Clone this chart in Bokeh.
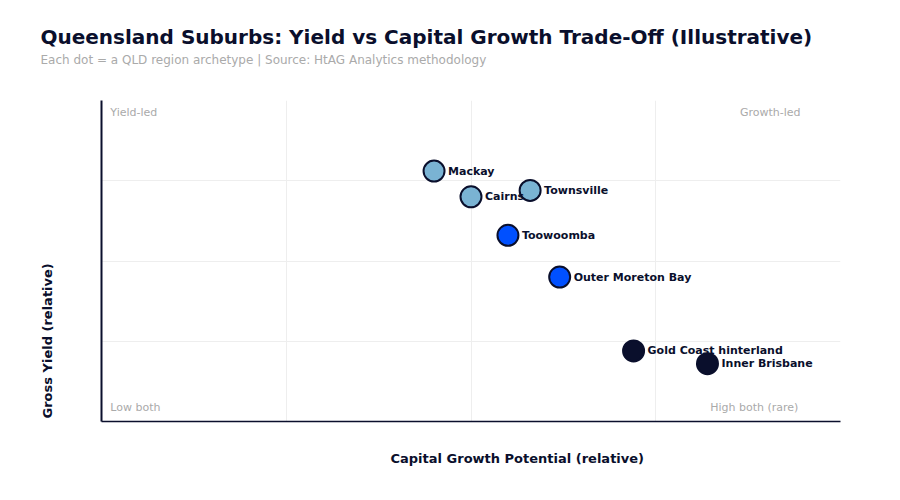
from bokeh.plotting import figure
from bokeh.models import ColumnDataSource, Label, FixedTicker, Range1d, Title
from bokeh.core.properties import value
from bokeh.embed import file_html
from bokeh.resources import INLINE

regions = ["Mackay", "Cairns", "Townsville", "Toowoomba", "Outer Moreton Bay",
           "Gold Coast hinterland", "Inner Brisbane"]
growth = [4.5, 5.0, 5.8, 5.5, 6.2, 7.2, 8.2]
yield_ = [7.8, 7.0, 7.2, 5.8, 4.5, 2.2, 1.8]
colors = ["#7ab3d3", "#7ab3d3", "#7ab3d3", "#0050ff", "#0050ff", "#0a0f2c", "#0a0f2c"]
grid_ticks = [2.5, 5.0, 7.5, 10.0]

FONT = "DejaVu Sans"
NAVY = "#0a0f2c"

p = figure(width=900, height=500, output_backend="svg", toolbar_location=None,
           x_range=Range1d(0, 10), y_range=Range1d(0, 10),
           min_border_left=101, min_border_right=60, min_border_top=100, min_border_bottom=79)
p.outline_line_color = None
p.background_fill_color = "white"

for ax in (p.xaxis, p.yaxis):
    ax.ticker = FixedTicker(ticks=[])
    ax.major_tick_line_color = None
    ax.minor_tick_line_color = None
    ax.axis_line_color = NAVY
p.yaxis.axis_line_width = 2
p.xaxis.axis_line_width = 1.5
p.xgrid.ticker = FixedTicker(ticks=grid_ticks)
p.ygrid.ticker = FixedTicker(ticks=grid_ticks)
p.xgrid.grid_line_color = "#eeeeee"
p.ygrid.grid_line_color = "#eeeeee"

src = ColumnDataSource(dict(x=growth, y=yield_, name=regions, c=colors))
p.scatter("x", "y", source=src, size=21, fill_color="c", line_color=NAVY, line_width=2)
p.text("x", "y", text="name", source=src, x_offset=14, text_baseline="middle",
       text_font=value(FONT), text_font_style="bold", text_font_size="11px", text_color=NAVY)

corner = dict(text_font=FONT, text_font_size="11px", text_color="#aaaaaa", text_baseline="middle")
p.add_layout(Label(x=0.12, y=9.63, text="Yield-led", text_align="left", **corner))
p.add_layout(Label(x=9.46, y=9.63, text="Growth-led", text_align="right", **corner))
p.add_layout(Label(x=0.12, y=0.44, text="Low both", text_align="left", **corner))
p.add_layout(Label(x=9.43, y=0.44, text="High both (rare)", text_align="right", **corner))

# spacer, subtitle, title stacked above the frame (later = farther up)
p.add_layout(Title(text=" ", text_font=FONT, text_font_size="20px", standoff=7), "above")
p.add_layout(Title(text="Each dot = a QLD region archetype | Source: HtAG Analytics methodology",
                   text_font=FONT, text_font_size="12px", text_font_style="normal",
                   text_color="#aaaaaa", align="left", offset=-61, standoff=2), "above")
p.add_layout(Title(text="Queensland Suburbs: Yield vs Capital Growth Trade-Off (Illustrative)",
                   text_font=FONT, text_font_style="bold", text_font_size="20px",
                   text_color=NAVY, align="left", offset=-61, standoff=2), "above")

p.add_layout(Title(text="Capital Growth Potential (relative)",
                   text_font=FONT, text_font_style="bold", text_font_size="13px",
                   text_color=NAVY, align="left", offset=289, standoff=54), "below")
# spacer then y label on the left (later = farther out)
p.add_layout(Title(text=" ", text_font=FONT, text_font_size="13px", standoff=30), "left")
p.add_layout(Title(text="Gross Yield (relative)",
                   text_font=FONT, text_font_style="bold", text_font_size="13px",
                   text_color=NAVY, align="left", offset=3, standoff=0), "left")

open("out.html", "w").write(file_html(p, INLINE))
